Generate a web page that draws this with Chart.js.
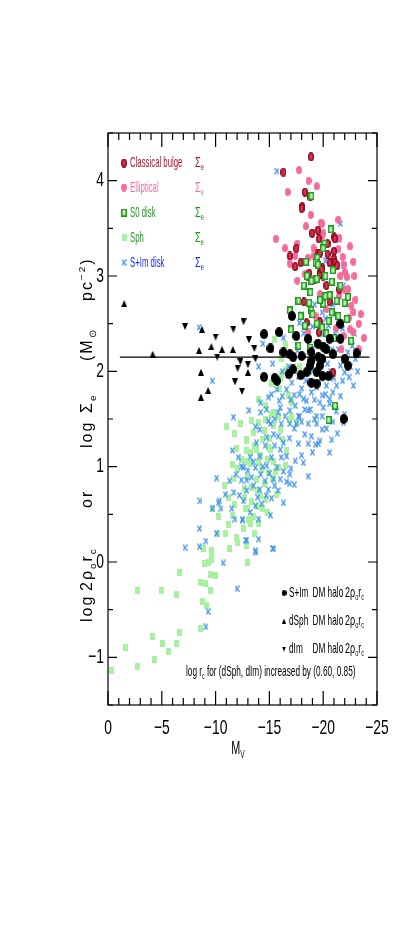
<!DOCTYPE html>
<html>
<head>
<meta charset="utf-8">
<script src="https://cdn.jsdelivr.net/npm/chart.js@4.4.1/dist/chart.umd.min.js"></script>
<style>html,body{margin:0;padding:0;background:#fff}</style>
</head>
<body>
<canvas id="chart" width="405" height="937" style="width:405px;height:937px"></canvas>
<script>
// Values (M_V, log surface density)
const bulgeX = [-18.87,-16.3,-18.3,-18.8,-18.05,-18.0,-18.98,-19.5,-19.6,-21.0,-21.1,-20.4,-17.5,-16.9,-17.4,-17.9,-19.5,-19.7,-20.4,-21.0,-21.0,-21.1,-21.3,-20.6,-19.9,-18.7,-19.7,-20.0,-19.7,-18.6,-21.5,-18.2,-20.6,-19.7,-18.45,-19.6,-20.9,-19.9,-19.2,-20.3];
const bulgeY = [4.25,4.09,3.88,3.83,3.73,3.71,3.45,3.48,3.39,3.41,3.39,3.34,3.29,3.21,3.10,3.14,3.24,3.24,3.23,3.26,3.18,3.14,3.11,3.14,3.09,3.03,3.04,3.0,3.02,2.99,2.86,2.73,2.73,2.52,2.51,2.41,1.99,3.07,2.96,2.90];

const ellipX = [-17.75,-18.65,-19.4,-16.7,-18.85,-19.8,-19.9,-18.4,-21.4,-15.6,-16.45,-17.6,-19.85,-19.1,-21.4,-22.5,-17.4,-16.9,-18.6,-19.1,-21.9,-22.0,-18.3,-21.6,-22.2,-21.5,-22.3,-22.6,-22.8,-22.4,-23.3,-22.8,-23.8,-23.3,-20.5,-19.7,-21.7,-22.5,-21.9,-19.3,-18.6,
  -20.8,-21.8,-22.9,-23.0,-22.0,-21.2,-20.3,-23.5,-20.0,-19.0,-22.8,-21.5,-18.1,-17.6];
const ellipY = [4.11,4.0,3.94,3.88,3.64,3.56,3.55,3.52,3.59,3.39,3.29,3.34,3.41,3.29,3.28,3.31,3.21,3.13,3.19,3.21,3.12,3.04,3.02,3.0,2.99,2.79,2.86,2.69,2.62,2.56,2.50,2.41,2.35,2.23,2.79,2.81,2.23,2.44,2.37,2.58,2.41,
  3.15,3.20,3.00,2.75,2.85,2.45,2.65,2.60,3.45,3.45,3.15,3.40,3.15,2.95];

const s0X = [-18.9,-20.7,-20.1,-20.0,-19.45,-18.4,-19.3,-19.5,-20.9,-18.5,-20.2,-18.9,-19.4,-20.8,-18.8,-20.2,-20.6,-17.7,-18.7,-20.0,-21.25,-22.0,-22.3,-16.9,-18.9,-17.9,-20.8,-21.4,-20.5,-19.4,-18.3,-17.0,-19.9,-22.2,-22.6,-18.8,-17.7,-21.1,-20.5,
  -19.0,-20.3,-21.0,-19.7,-21.6,-18.2];
const s0Y = [3.84,3.49,3.34,3.29,3.19,3.15,3.14,3.12,3.06,3.0,3.0,2.95,2.97,2.94,2.83,2.79,2.80,2.74,2.72,2.71,2.74,2.72,2.78,2.64,2.64,2.58,2.62,2.58,2.53,2.50,2.48,2.44,2.46,2.55,2.32,2.25,2.27,1.64,1.49,
  2.60,2.40,2.35,2.75,2.90,2.90];

const sphX = [-11.0,-12.9,-11.9,-12.9,-12.0,-11.65,-12.7,-13.0,-11.2,-9.7,-12.8,-11.6,-11.2,-10.2,-11.9,-11.3,-8.86,-9.6,-9.6,-13.1,
  -15.2,-14.6,-14.0,-13.5,-12.9,-15.4,-16.0,-16.9,-14.4,-13.8,-15.1,-13.2,-14.0,-14.9,-13.2,-14.3,-13.8,-15.8,-16.6,-15.7,-14.6,-13.35,-13.0,-14.4,-13.5,-14.0,-12.6,-12.9,-16.45,-17.1,-17.5,
  -13.6,-14.2,-14.8,-13.9,-14.5,-15.3,-13.3,-12.7,-14.2,-15.0,-14.5,-13.9,-13.6,-12.8,-15.4,-14.9,
  -2.76,-4.93,-6.4,-6.6,-8.64,-9.1,-9.57,-9.5,-10.0,-8.95,-9.3,-9.6,-13.0,-8.8,-9.2,-6.6,-8.64,-4.15,-5.05,-6.4,-1.58,-5.6,-4.28,-2.76,-0.28,-12.95,
  -15.5,-16.1,-16.1,-16.6,-16.0,-15.2,-14.6,-15.4,-15.8,-17.1,-17.2,
  -11.8,-12.3,-13.3,-12.4,-11.6,-10.8,-10.3,-11.8,-13.2,-14.8,-15.6,-16.2,-16.8,-15.9,-14.0,-12.0,-10.9,-16.5,-17.8];
const sphY = [1.42,1.29,1.19,1.17,0.98,0.88,0.77,0.90,0.68,0.56,0.56,0.49,0.39,0.30,0.26,0.14,0.14,0.12,0.05,0.45,
  1.55,1.50,1.46,1.36,1.27,1.43,1.39,1.50,1.29,1.18,1.18,1.15,1.04,0.94,1.03,0.97,0.87,0.99,1.17,0.71,0.66,0.63,0.56,0.56,0.48,0.40,0.35,0.17,1.01,1.53,1.46,
  1.22,1.12,1.08,0.75,0.82,0.88,0.78,0.68,0.70,1.30,1.38,0.58,0.30,1.05,1.05,1.20,
  -0.30,-0.30,-0.34,-0.11,-0.21,-0.23,-0.30,-0.13,-0.14,-0.02,-0.01,0.03,-0.01,-0.41,-0.46,-0.74,-0.70,-0.78,-0.86,-0.86,-0.90,-0.94,-1.02,-1.10,-1.14,-0.01,
  2.33,2.13,1.97,2.02,1.92,1.87,1.64,1.57,1.53,1.67,2.13,
  1.35,1.45,1.48,1.08,1.02,0.80,0.48,0.60,0.40,0.52,0.95,1.28,1.75,1.82,1.70,0.20,0.30,2.28,2.05];

const diskX = [-15.7,-21.6,-21.5,-21.9,-20.2,-19.8,-21.0,
  -8.46,-9.7,-11.65,-13.1,
  -11.55,-12.4,-12.6,-11.9,-10.1,-12.4,-12.9,-10.9,-11.7,-8.55,-10.25,-10.35,-9.7,-10.5,-11.5,-11.8,-12.5,-8.5,-10.1,-12.9,-9.1,-7.16,-8.5,
  -15.8,-18.6,-17.7,-19.9,-19.2,-18.6,-19.4,-19.9,-20.9,-14.1,-15.1,-16.1,-16.9,-17.5,-18.3,-18.9,-15.4,-14.75,-15.8,-16.85,-13.8,-16.3,-19.7,-19.55,-18.6,-17.7,-19.3,-14.6,-15.5,-16.0,-20.6,-13.2,-14.1,-15.2,-16.1,-16.6,-17.4,-18.15,-13.7,-14.75,-15.7,-13.0,-16.9,-18.6,-13.35,-14.6,-15.4,-16.0,-14.1,-14.9,-15.5,-16.9,-17.3,-16.6,-13.5,-12.9,-15.2,-12.6,-14.3,-13.7,-15.1,-14.0,-12.5,-12.8,-14.0,-15.4,-13.75,-21.9,
  -10.7,-12.0,-9.3,-9.1,-13.7,-15.3,
  -14.4,-16.3,-17.8,-17.8,-18.15,-18.9,-17.4,-16.2,-15.9,-15.2,-14.9,-14.2,-14.75,-14.2,-16.45,-17.8,-18.8,-19.4,-19.7,-20.6,-21.6,-22.4,-22.0,-23.0,-21.6,-20.3,-21.25,-19.4,-17.7,-20.2,-21.6,-21.1,-19.9,-20.5,-20.0,-20.8,-21.4,-22.3,-17.1,-16.6,-15.7,-18.45,-16.9,-20.6,
  -18.4,-19.0,-19.8,-20.7,-21.0,-18.0,-19.2,-20.0,-21.2,-17.3,-20.4,-22.7,-18.7,-19.3,
  -16.8,-17.6,-18.2,-19.0,-20.2,-21.0,-21.8,-22.5,-23.2,-22.8,-21.8,-20.9,-19.9,-19.0,-18.3,-17.0,-16.0,-15.5,-14.9,-13.7,-17.3,-18.0,-20.3,-21.3,-22.0,-20.8,-19.0,-18.0,-17.0,-16.3,-15.0,-14.2,-13.9,-14.7,-15.8,-16.3,-13.2,-12.2,-11.3,-12.1,-13.5,-14.4,-16.2,-15.3,-14.0,-22.9,-20.9,-21.9,-19.2,-18.0];
const diskY = [4.1,3.55,3.38,3.11,3.16,3.0,3.09,
  2.46,1.90,1.52,1.59,
  1.17,1.0,0.99,0.92,0.88,0.86,0.86,0.71,0.73,0.64,0.62,0.64,0.56,0.56,0.56,0.45,0.45,0.35,0.30,0.23,0.22,0.15,0.16,
  1.57,1.59,1.53,1.53,1.50,1.45,1.45,1.39,1.47,1.39,1.45,1.45,1.45,1.45,1.34,1.32,1.34,1.31,1.32,1.30,1.25,1.25,1.27,1.24,1.24,1.24,1.23,1.22,1.22,1.18,1.15,1.10,1.11,1.10,1.10,1.11,1.06,1.04,0.99,1.01,0.99,0.96,0.92,0.90,0.89,0.85,0.87,0.87,0.76,0.76,0.80,0.82,0.81,0.84,0.80,0.75,0.67,0.64,0.61,0.59,0.49,0.45,0.44,0.23,0.24,0.14,0.10,1.46,
  -0.01,-0.28,-0.52,-0.68,0.12,0.14,
  2.29,2.35,2.51,1.76,1.71,1.78,1.64,1.74,1.69,1.76,1.73,1.67,1.60,1.57,1.53,1.53,1.60,1.53,1.67,1.71,1.74,1.94,1.99,2.13,2.06,1.85,1.85,1.83,1.95,1.76,2.37,2.39,2.62,2.48,2.39,2.23,2.23,2.20,1.88,1.81,1.81,1.69,1.59,1.66,
  1.90,2.0,1.93,2.0,1.93,1.82,1.70,1.62,1.58,1.75,2.08,2.27,2.33,2.28,
  2.05,2.22,2.40,2.47,2.55,2.60,2.45,2.05,2.0,1.85,1.90,1.78,1.75,1.88,1.60,1.70,1.62,1.50,1.48,1.42,1.40,1.47,1.40,1.35,1.55,1.28,1.15,1.12,0.98,0.95,0.93,0.92,0.68,0.70,0.75,0.62,0.52,0.70,0.85,1.10,1.05,1.00,2.00,2.08,2.05,2.40,2.70,2.90,2.70,2.60];

const haloX = [-17.1,-15.9,-14.5,-17.5,-18.6,-19.5,-20.6,-21.6,-21.6,-15.1,-16.3,-16.9,-17.2,-18.0,-18.9,-19.55,-20.3,-20.9,-22.0,-23.1,-22.3,-17.2,-16.8,-14.5,-15.7,-15.5,-17.9,-18.8,-18.9,-19.4,-19.95,-20.5,-19.4,-18.9,-19.9,-21.9,-20.0,-19.7,-18.45];
const haloY = [2.58,2.41,2.39,2.37,2.34,2.29,2.34,2.34,2.50,2.24,2.20,2.18,2.15,2.16,2.20,2.15,2.23,2.18,2.13,2.19,2.06,2.02,1.97,1.94,1.90,1.93,1.96,2.06,1.88,1.87,1.95,1.95,1.99,2.11,2.13,1.50,2.26,2.06,1.99];

const dSphX = [-1.5,-4.15,-8.46,-8.74,-9.6,-10.6,-11.6,-8.64,-9.3,-8.64,-13.0];
const dSphY = [2.71,2.18,2.22,2.44,2.26,2.23,2.23,1.99,1.80,1.73,1.99];

const dImX = [-7.16,-10.0,-11.65,-12.6,-13.1,-10.15,-12.3,-12.05,-13.0,-11.8,-12.45,-13.6,-13.7];
const dImY = [2.47,2.36,2.44,2.52,2.33,2.15,2.10,2.03,2.07,1.89,1.79,2.24,2.13];

// horizontal reference level
const refLineX = [-1.1, -24.3];
const refLineY = [2.15, 2.15];

const xTicks = [0, -5, -10, -15, -20, -25];
const yTicks = [-1, 0, 1, 2, 3, 4];

const zip = (xs, ys) => xs.map((x, i) => ({x: x, y: ys[i]}));

// small marker images (slightly taller than wide, like the original)
function sprite(w, h, draw) {
    const c = document.createElement('canvas');
    c.width = w; c.height = h;
    draw(c.getContext('2d'), w, h);
    return c;
}
function ellipse(fill, stroke, lw) {
    return (g, w, h) => {
        g.beginPath();
        g.ellipse(w / 2, h / 2, w / 2 - (lw || 0) / 2, h / 2 - (lw || 0) / 2, 0, 0, Math.PI * 2);
        g.fillStyle = fill; g.fill();
        if (stroke) { g.lineWidth = lw; g.strokeStyle = stroke; g.stroke(); }
    };
}
const mBulge = sprite(6, 9, ellipse('#e0324f', '#8c0a1e', 1.5));
const mEllip = sprite(6, 8, ellipse('#f66a9b'));
const mS0 = sprite(6, 8, (g, w, h) => {
    g.fillStyle = '#c4f3ba'; g.fillRect(0, 0, w, h);
    g.lineWidth = 1.5; g.strokeStyle = '#1d9b1d'; g.strokeRect(0.75, 0.75, w - 1.5, h - 1.5);
});
const mSph = sprite(5, 7, (g, w, h) => { g.fillStyle = '#a7f1a0'; g.fillRect(0, 0, w, h); });
const mDisk = sprite(5, 7, (g, w, h) => {
    g.strokeStyle = '#3b8ff0'; g.lineWidth = 1.3;
    g.beginPath(); g.moveTo(0.5, 0.5); g.lineTo(w - 0.5, h - 0.5);
    g.moveTo(w - 0.5, 0.5); g.lineTo(0.5, h - 0.5); g.stroke();
});
const mHalo = sprite(8, 10, ellipse('#000'));
const mUp = sprite(6, 7, (g, w, h) => {
    g.fillStyle = '#000'; g.beginPath(); g.moveTo(w / 2, 0); g.lineTo(w, h); g.lineTo(0, h); g.closePath(); g.fill();
});
const mDown = sprite(6, 7, (g, w, h) => {
    g.fillStyle = '#000'; g.beginPath(); g.moveTo(0, 0); g.lineTo(w, 0); g.lineTo(w / 2, h); g.closePath(); g.fill();
});
// smaller versions for the lower legend
const lHalo = sprite(5, 6, ellipse('#000'));
const lUp = sprite(4, 5, (g, w, h) => {
    g.fillStyle = '#000'; g.beginPath(); g.moveTo(w / 2, 0); g.lineTo(w, h); g.lineTo(0, h); g.closePath(); g.fill();
});
const lDown = sprite(4, 5, (g, w, h) => {
    g.fillStyle = '#000'; g.beginPath(); g.moveTo(0, 0); g.lineTo(w, 0); g.lineTo(w / 2, h); g.closePath(); g.fill();
});

const FONT = '"Liberation Sans", Arial, sans-serif';

// text with sub/superscripts, squeezed horizontally to look like the condensed plot font
function rich(ctx, parts, x, y, size, sx, color, align) {
    ctx.save();
    ctx.textBaseline = 'middle';
    ctx.textAlign = 'left';
    const items = parts.map(p => typeof p === 'string' ? {t: p} : p);
    let total = 0;
    for (const s of items) {
        ctx.font = ((s.sub || s.sup) ? size * 0.62 : size) + 'px ' + FONT;
        total += ctx.measureText(s.t).width + (s.gap || 0);
    }
    ctx.translate(x, y);
    ctx.scale(sx, 1);
    let cx = align === 'center' ? -total / 2 : align === 'right' ? -total : 0;
    for (const s of items) {
        const fs = (s.sub || s.sup) ? size * 0.62 : size;
        ctx.font = fs + 'px ' + FONT;
        ctx.fillStyle = s.color || color;
        const dy = s.sub ? size * 0.32 : s.sup ? -size * 0.38 : 0;
        ctx.fillText(s.t, cx, dy);
        cx += ctx.measureText(s.t).width + (s.gap || 0);
    }
    ctx.restore();
}
const minus = v => v < 0 ? '−' + Math.abs(v) : String(v);

const decorations = {
    id: 'decorations',
    afterDraw(chart) {
        const ctx = chart.ctx, a = chart.chartArea;
        const xs = chart.scales.x, ys = chart.scales.y;
        ctx.save();
        ctx.strokeStyle = '#000';
        ctx.lineWidth = 1.2;
        ctx.strokeRect(a.left, a.top, a.right - a.left, a.bottom - a.top);
        ctx.beginPath();
        for (let v = 0; v >= -25; v--) {
            const px = xs.getPixelForValue(v);
            const len = v % 5 === 0 ? 14 : 7;
            ctx.moveTo(px, a.bottom); ctx.lineTo(px, a.bottom - len);
            ctx.moveTo(px, a.top); ctx.lineTo(px, a.top + len);
        }
        for (let v = -1.5; v <= 4.5; v += 0.5) {
            const py = ys.getPixelForValue(v);
            const len = Number.isInteger(v) ? 9 : 5;
            ctx.moveTo(a.left, py); ctx.lineTo(a.left + len, py);
            ctx.moveTo(a.right, py); ctx.lineTo(a.right - len, py);
        }
        ctx.stroke();

        // tick labels from the library's ticks
        for (const t of xs.ticks) {
            rich(ctx, [minus(t.value)], xs.getPixelForValue(t.value), 728, 21, 0.66, '#000', 'center');
        }
        for (const t of ys.ticks) {
            rich(ctx, [minus(t.value)], 104, ys.getPixelForValue(t.value), 21, 0.66, '#000', 'right');
        }

        // upper-left legend
        const rows = [
            {m: mBulge, t: 'Classical bulge', c: '#b0122e', y: 163},
            {m: mEllip, t: 'Elliptical', c: '#f0709c', y: 187.5},
            {m: mS0, t: 'S0 disk', c: '#1a9a1a', y: 212.5},
            {m: mSph, t: 'Sph', c: '#1a9a1a', y: 237.5},
            {m: mDisk, t: 'S+Im disk', c: '#1c2cf0', y: 262.5}
        ];
        for (const r of rows) {
            ctx.drawImage(r.m, 124 - r.m.width / 2, r.y - r.m.height / 2);
            rich(ctx, [r.t], 130, r.y, 15, 0.52, r.c);
            rich(ctx, ['Σ', {t: 'e', sub: true}], 195, r.y, 15, 0.62, r.c);
        }

        // lower-right legend
        const halo = [
            {m: lHalo, t: 'S+Im', y: 593},
            {m: lUp, t: 'dSph', y: 621},
            {m: lDown, t: 'dIm', y: 649}
        ];
        for (const r of halo) {
            ctx.drawImage(r.m, 284 - r.m.width / 2, r.y - r.m.height / 2);
            rich(ctx, [r.t], 289, r.y, 15, 0.55, '#000');
            rich(ctx, ['DM halo'], 312.5, r.y, 15, 0.55, '#000');
            rich(ctx, ['2ρ', {t: 'o', sub: true}, 'r', {t: 'c', sub: true}], 345, r.y, 15, 0.6, '#000');
        }
        rich(ctx, ['log r', {t: 'c', sub: true}, ' for (dSph, dIm) increased by (0.60, 0.85)'], 186, 672, 15, 0.55, '#000');

        // axis titles
        rich(ctx, ['M', {t: 'V', sub: true}], 238, 749, 18, 0.6, '#000', 'center');
        ctx.save();
        ctx.translate(88, 0);
        ctx.rotate(-Math.PI / 2);
        ctx.letterSpacing = '2px';
        const yTitle = [
            {y: 622, p: ['log']},
            {y: 591, p: ['2ρ', {t: 'o', sub: true}, 'r', {t: 'c', sub: true}]},
            {y: 508, p: ['or']},
            {y: 448, p: ['log']},
            {y: 413, p: ['Σ', {t: 'e', sub: true}]},
            {y: 361, p: ['(M', {t: '⊙', sub: true}]},
            {y: 301, p: ['pc', {t: '−2', sup: true}, ')']}
        ];
        for (const g of yTitle) rich(ctx, g.p, -g.y, 0, 16, 1.0, '#000');
        ctx.restore();
        ctx.restore();
    }
};

new Chart(document.getElementById('chart').getContext('2d'), {
    type: 'scatter',
    data: {
        datasets: [
            {label: 'S+Im DM halo', data: zip(haloX, haloY), pointStyle: mHalo, pointRadius: 4, order: 0},
            {label: 'dSph DM halo', data: zip(dSphX, dSphY), pointStyle: mUp, pointRadius: 4, order: 0},
            {label: 'dIm DM halo', data: zip(dImX, dImY), pointStyle: mDown, pointRadius: 4, order: 0},
            {type: 'line', label: 'level', data: zip(refLineX, refLineY), borderColor: '#000', borderWidth: 1.3, pointRadius: 0, order: 1},
            {label: 'S0 disk', data: zip(s0X, s0Y), pointStyle: mS0, pointRadius: 4, order: 2},
            {label: 'Classical bulge', data: zip(bulgeX, bulgeY), pointStyle: mBulge, pointRadius: 4, order: 3},
            {label: 'Elliptical', data: zip(ellipX, ellipY), pointStyle: mEllip, pointRadius: 4, order: 4},
            {label: 'S+Im disk', data: zip(diskX, diskY), pointStyle: mDisk, pointRadius: 4, order: 5},
            {label: 'Sph', data: zip(sphX, sphY), pointStyle: mSph, pointRadius: 4, order: 6}
        ]
    },
    options: {
        responsive: false,
        animation: false,
        layout: {padding: {left: 72, right: 28, top: 133, bottom: 177}},
        plugins: {legend: {display: false}, tooltip: {enabled: false}},
        scales: {
            x: {
                type: 'linear', min: -25, max: 0, reverse: true,
                grid: {display: false, drawTicks: false}, border: {display: false},
                afterBuildTicks: s => { s.ticks = xTicks.map(v => ({value: v})); },
                afterFit: s => { s.height = 55; },
                ticks: {display: false}
            },
            y: {
                type: 'linear', min: -1.5, max: 4.5,
                grid: {display: false, drawTicks: false}, border: {display: false},
                afterBuildTicks: s => { s.ticks = yTicks.map(v => ({value: v})); },
                afterFit: s => { s.width = 36; },
                ticks: {display: false}
            }
        }
    },
    plugins: [decorations]
});
</script>
</body>
</html>
